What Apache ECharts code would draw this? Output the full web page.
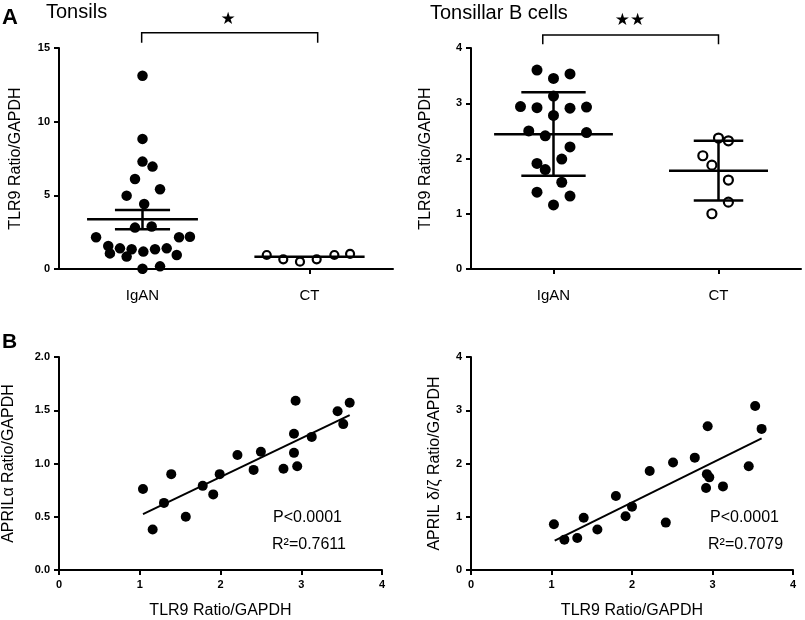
<!DOCTYPE html>
<html><head><meta charset="utf-8">
<script src="https://cdn.jsdelivr.net/npm/echarts@6/dist/echarts.min.js"></script>
<style>html,body{margin:0;padding:0;background:#fff}#c{width:805px;height:620px}</style>
</head><body><div id="c"></div>
<script>
// ---------- data ----------
const groups = ['IgAN', 'CT'];
// Panel A, Tonsils (dot position within group, value)
const tonsilIgAN_x = [1.00,1.00,1.00,1.06,0.955,1.105,0.905,1.01,0.955,1.055,0.722,1.219,1.284,0.795,0.865,0.935,1.005,1.075,1.145,0.805,0.905,1.205,1.00,1.105];
const tonsilIgAN_y = [13.12,8.83,7.29,6.95,6.11,5.41,4.98,4.41,2.81,2.88,2.15,2.15,2.19,1.56,1.40,1.34,1.18,1.34,1.40,1.06,0.84,0.95,0.02,0.18];
const tonsilCT_x = [1.744,1.843,1.943,2.043,2.149,2.243];
const tonsilCT_y = [0.95,0.66,0.50,0.66,0.95,1.02];
const tonsilMean = [3.37, 0.835];
const tonsilSemHi = [4.00, null];
const tonsilSemLo = [2.69, null];
// Panel A, Tonsillar B cells
const bcellIgAN_x = [0.90,1.00,1.10,1.00,0.80,0.90,1.10,1.20,1.00,0.85,0.95,1.20,1.10,1.05,0.90,0.95,1.05,0.90,1.10,1.00];
const bcellIgAN_y = [3.60,3.45,3.53,3.13,2.94,2.92,2.91,2.93,2.78,2.50,2.41,2.47,2.21,1.99,1.91,1.80,1.57,1.39,1.32,1.16];
const bcellCT_x = [2.00,2.06,1.905,1.96,2.06,2.06,1.96];
const bcellCT_y = [2.37,2.32,2.05,1.88,1.61,1.21,1.00];
const bcellMean = [2.44, 1.78];
const bcellSdHi = [3.20, 2.32];
const bcellSdLo = [1.69, 1.24];
// Panel B, correlations
const alphaTLR9 = [1.04,1.16,1.30,1.39,1.57,1.78,1.91,1.99,2.21,2.41,2.50,2.78,2.91,2.91,2.93,2.95,3.13,3.45,3.52,3.60];
const alphaAPRIL = [0.76,0.38,0.63,0.90,0.50,0.79,0.71,0.90,1.08,0.94,1.11,0.95,1.28,1.10,1.59,0.975,1.25,1.49,1.37,1.57];
const alphaFit = [[1.04,0.525],[3.60,1.455]];
const dzTLR9 = [1.03,1.16,1.32,1.40,1.57,1.80,1.92,2.00,2.22,2.42,2.51,2.78,2.94,2.93,2.96,2.92,3.13,3.45,3.53,3.61];
const dzAPRIL = [0.86,0.57,0.60,0.98,0.76,1.39,1.01,1.19,1.86,0.89,2.02,2.11,2.70,1.80,1.74,1.54,1.57,1.95,3.08,2.65];
const dzFit = [[1.04,0.55],[3.61,2.47]];
const tonsilTicks = [0, 15, 5];
const bcellTicks = [0, 4, 1];
const alphaTicks = [0, 2, 0.5];
const dzTicks = [0, 4, 1];
const xTicks = [0, 4, 1];

// ---------- helpers ----------
const FONT = 'Liberation Sans, Arial, sans-serif';
const axisBase = () => ({
  axisLine: {show: true, lineStyle: {color: '#000', width: 2}},
  axisTick: {show: true, length: 5, lineStyle: {color: '#000', width: 2}},
  splitLine: {show: false},
  axisLabel: {color: '#000', fontWeight: 'bold', fontSize: 11, fontFamily: FONT, margin: 9}
});
function catAxis(grid) {
  const a = axisBase();
  return Object.assign(a, {type: 'category', gridIndex: grid, data: groups, boundaryGap: true,
    axisTick: {show: true, alignWithLabel: true, length: 5, lineStyle: {color: '#000', width: 2}},
    axisLabel: {color: '#000', fontSize: 15, fontFamily: FONT, margin: 19}});
}
function hiddenX(grid) {
  return {type: 'value', gridIndex: grid, min: 0.5, max: 2.5, show: false};
}
function valAxis(grid, ticks, name, gap, fmt) {
  const a = axisBase();
  Object.assign(a, {type: 'value', gridIndex: grid, min: ticks[0], max: ticks[1], interval: ticks[2],
    name: name, nameLocation: 'middle', nameGap: gap,
    nameTextStyle: {color: '#000', fontSize: 16, fontFamily: FONT}});
  if (fmt) a.axisLabel.formatter = fmt;
  return a;
}
function pts(xs, ys) { return xs.map((x, i) => [x, ys[i]]); }
function barSegments(means, hi, lo, halfMean, halfErr) {
  const segs = [];
  means.forEach((m, i) => {
    const c = i + 1;
    segs.push({coords: [[c - halfMean[i], m], [c + halfMean[i], m]]});
    if (hi[i] != null) {
      segs.push({coords: [[c - halfErr[i], hi[i]], [c + halfErr[i], hi[i]]]});
      segs.push({coords: [[c - halfErr[i], lo[i]], [c + halfErr[i], lo[i]]]});
      segs.push({coords: [[c, lo[i]], [c, hi[i]]]});
    }
  });
  return segs;
}
const filled = (xi, yi, data, size) => ({type: 'scatter', xAxisIndex: xi, yAxisIndex: yi, data: data,
  symbolSize: size, itemStyle: {color: '#000', opacity: 1}, z: 2, silent: true});
const open = (xi, yi, data, size) => ({type: 'scatter', xAxisIndex: xi, yAxisIndex: yi, data: data,
  symbolSize: size, itemStyle: {color: '#fff', borderColor: '#000', borderWidth: 2.2, opacity: 1}, z: 2, silent: true});
const segLines = (xi, yi, data, w) => ({type: 'lines', coordinateSystem: 'cartesian2d', xAxisIndex: xi, yAxisIndex: yi,
  data: data, lineStyle: {color: '#000', width: w, opacity: 1}, z: 5, silent: true, clip: false, polyline: true});

const chart = echarts.init(document.getElementById('c'), null, {renderer: 'canvas'});
const option = {
  backgroundColor: '#fff',
  animation: false,
  grid: [
    {left: 59, top: 48, width: 334, height: 221},
    {left: 471, top: 48, width: 330, height: 221},
    {left: 59, top: 357, width: 323, height: 216},
    {left: 471, top: 357, width: 322, height: 216}
  ],
  xAxis: [
    catAxis(0), hiddenX(0), catAxis(1), hiddenX(1),
    valAxis(2, xTicks, 'TLR9 Ratio/GAPDH', 33),
    valAxis(3, xTicks, 'TLR9 Ratio/GAPDH', 33)
  ],
  yAxis: [
    valAxis(0, tonsilTicks, 'TLR9 Ratio/GAPDH', 35),
    valAxis(1, bcellTicks, 'TLR9 Ratio/GAPDH', 37),
    valAxis(2, alphaTicks, 'APRILα Ratio/GAPDH', 42, v => v.toFixed(1)),
    valAxis(3, dzTicks, 'APRIL δ/ζ Ratio/GAPDH', 28)
  ],
  series: [
    filled(1, 0, pts(tonsilIgAN_x, tonsilIgAN_y), 10.5),
    open(1, 0, pts(tonsilCT_x, tonsilCT_y), 8),
    segLines(1, 0, barSegments(tonsilMean, tonsilSemHi, tonsilSemLo, [0.332, 0.33], [0.165, 0]), 2.5),
    segLines(1, 0, [{coords: [[0.995, 15.36], [0.995, 16.04], [2.049, 16.04], [2.049, 15.36]]}], 1.5),
    filled(3, 1, pts(bcellIgAN_x, bcellIgAN_y), 11),
    open(3, 1, pts(bcellCT_x, bcellCT_y), 9),
    segLines(3, 1, barSegments(bcellMean, bcellSdHi, bcellSdLo, [0.36, 0.3], [0.195, 0.15]), 2.5),
    segLines(3, 1, [{coords: [[0.935, 4.067], [0.935, 4.235], [2.0, 4.235], [2.0, 4.067]]}], 1.5),
    filled(4, 2, pts(alphaTLR9, alphaAPRIL), 10),
    segLines(4, 2, [{coords: alphaFit}], 2),
    filled(5, 3, pts(dzTLR9, dzAPRIL), 10),
    segLines(5, 3, [{coords: dzFit}], 2)
  ],
  graphic: [
    {type: 'text', left: 2, top: 7, style: {text: 'A', fontSize: 22, fontWeight: 'bold', fontFamily: FONT, fill: '#000'}},
    {type: 'text', left: 46, top: 2, style: {text: 'Tonsils', fontSize: 20, fontFamily: FONT, fill: '#000'}},
    {type: 'text', left: 430, top: 3, style: {text: 'Tonsillar B cells', fontSize: 20, fontFamily: FONT, fill: '#000'}},
    {type: 'text', left: 2, top: 332, style: {text: 'B', fontSize: 21, fontWeight: 'bold', fontFamily: FONT, fill: '#000'}},
    {type: 'text', x: 228, y: 20, style: {text: '★', fontSize: 17, fontFamily: 'DejaVu Sans', fill: '#000', align: 'center', verticalAlign: 'middle'}},
    {type: 'text', x: 630, y: 21, style: {text: '★★', fontSize: 17, fontFamily: 'DejaVu Sans', fill: '#000', align: 'center', verticalAlign: 'middle'}},
    {type: 'text', x: 273, y: 518, style: {text: 'P<0.0001', fontSize: 16, fontFamily: FONT, fill: '#000', verticalAlign: 'middle'}},
    {type: 'text', x: 272, y: 545, style: {text: 'R²=0.7611', fontSize: 16, fontFamily: FONT, fill: '#000', verticalAlign: 'middle'}},
    {type: 'text', x: 710, y: 518, style: {text: 'P<0.0001', fontSize: 16, fontFamily: FONT, fill: '#000', verticalAlign: 'middle'}},
    {type: 'text', x: 708, y: 545, style: {text: 'R²=0.7079', fontSize: 16, fontFamily: FONT, fill: '#000', verticalAlign: 'middle'}}
  ]
};
chart.setOption(option);
</script></body></html>
